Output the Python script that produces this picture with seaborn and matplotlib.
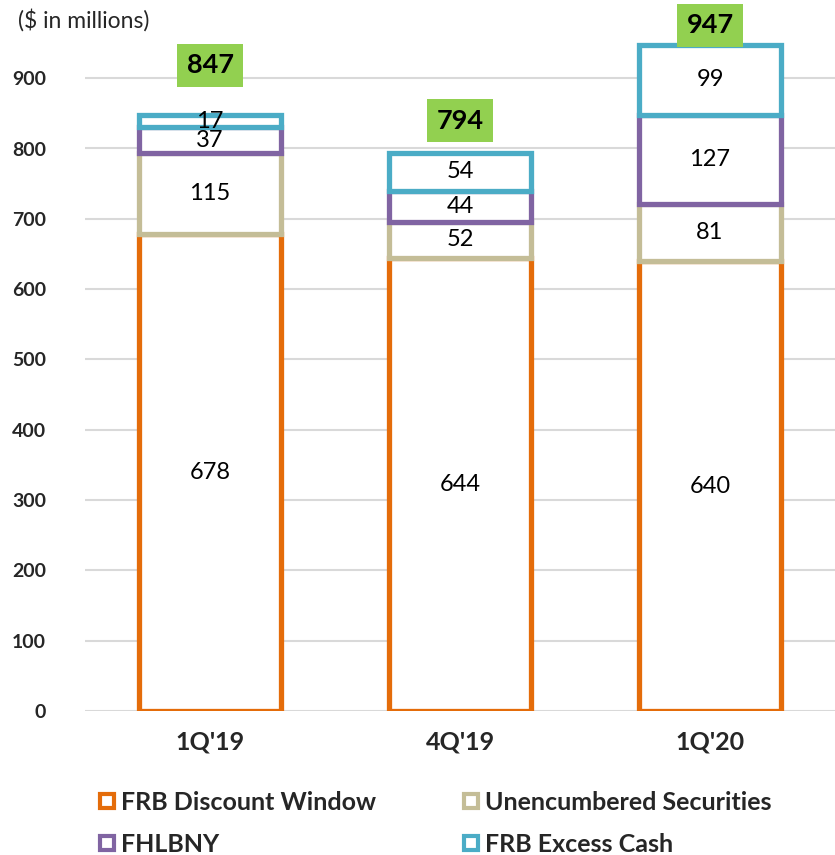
import matplotlib
matplotlib.use("Agg")
import matplotlib.pyplot as plt
from matplotlib.lines import Line2D
import numpy as np
import pandas as pd
import seaborn as sns

quarters = ["1Q'19", "4Q'19", "1Q'20"]
frb_discount = [678, 644, 640]
unencumbered = [115, 52, 81]
fhlbny = [37, 44, 127]
frb_excess = [17, 54, 99]
totals = [847, 794, 947]

series_names = ["FRB Discount Window", "Unencumbered Securities", "FHLBNY", "FRB Excess Cash"]
series_values = [frb_discount, unencumbered, fhlbny, frb_excess]
colors = ["#E46C0A", "#C4BD97", "#8064A2", "#4BACC6"]

sns.set_theme(style="white")
plt.rcParams["font.family"] = ["Lato", "DejaVu Sans"]

fig = plt.figure(figsize=(8.35, 8.55), dpi=100)
ax = fig.add_axes([85 / 835, 144 / 855, 750 / 835, 675 / 855])

ax.set_ylim(0, 960)
ax.set_yticks(range(0, 1000, 100))
ax.yaxis.grid(True, color="#D9D9D9", linewidth=1.5)
ax.set_axisbelow(True)

# stacked segments, bottom to top, each with white fill and a coloured outline
cum = np.cumsum(np.array(series_values), axis=0)
bottoms = np.vstack([np.zeros(len(quarters)), cum[:-1]])
for i in range(len(series_names)):
    df = pd.DataFrame({"quarter": quarters, "value": series_values[i]})
    sns.barplot(data=df, x="quarter", y="value", ax=ax, width=0.57,
                color="white", saturation=1, bottom=bottoms[i],
                facecolor="white", edgecolor=colors[i],
                linewidth=3.8, errorbar=None, zorder=2)

# segment value labels
for i, vals in enumerate(series_values):
    for j, v in enumerate(vals):
        ax.text(j, bottoms[i][j] + v / 2, str(v), ha="center", va="center",
                fontsize=17, color="black", zorder=5)

# total labels in green boxes
total_offsets = [50, 32, 20]
for j, t in enumerate(totals):
    ax.annotate(str(t), xy=(j, t), xytext=(0, total_offsets[j] * 0.72),
                textcoords="offset points", ha="center", va="center",
                fontsize=19.5, fontweight="bold", color="black",
                bbox=dict(boxstyle="square,pad=0.35", facecolor="#92D050", edgecolor="none"),
                annotation_clip=False, zorder=6)

ax.set_xlim(-0.5, 2.5)
ax.set_xlabel("")
ax.set_ylabel("")
for s in ax.spines.values():
    s.set_visible(False)
ax.tick_params(axis="y", length=0, pad=28, labelsize=14)
ax.tick_params(axis="x", length=0, pad=14, labelsize=18)
for lbl in ax.get_yticklabels() + ax.get_xticklabels():
    lbl.set_fontweight("bold")

fig.text(18 / 835, 1 - 20 / 855, "($ in millions)", fontsize=16.5, ha="left", va="center")

handles = [Line2D([], [], marker="s", linestyle="none", markersize=10,
                  markerfacecolor="white", markeredgecolor=c, markeredgewidth=3)
           for c in colors]
order = [0, 2, 1, 3]
fig.legend([handles[k] for k in order], [series_names[k] for k in order],
           ncol=2, loc="upper left", bbox_to_anchor=(82 / 835, 1 - 776 / 855),
           frameon=False, handlelength=0.8, handletextpad=0.15,
           columnspacing=3.4, labelspacing=0.75, borderaxespad=0.2,
           prop={"weight": "bold", "size": 18})

fig.savefig("out.png", dpi=100)
